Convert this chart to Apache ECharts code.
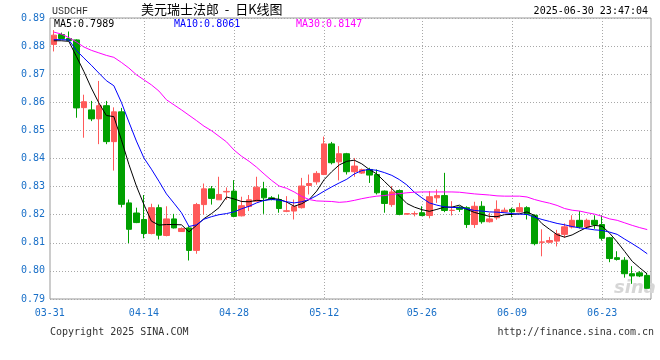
<!DOCTYPE html>
<html><head><meta charset="utf-8">
<script src="https://cdn.jsdelivr.net/npm/echarts@6/dist/echarts.min.js"></script>
<style>html,body{margin:0;padding:0;background:#fff}#c{width:660px;height:360px}</style>
</head><body><div id="c"></div>
<script>
const dates = ['03-31','04-01','04-02','04-03','04-04','04-05',
'04-07','04-08','04-09','04-10','04-11','04-12',
'04-14','04-15','04-16','04-17','04-18','04-19',
'04-21','04-22','04-23','04-24','04-25','04-26',
'04-28','04-29','04-30','05-01','05-02','05-03',
'05-05','05-06','05-07','05-08','05-09','05-10',
'05-12','05-13','05-14','05-15','05-16','05-17','05-18',
'05-19','05-20','05-21','05-22','05-23','05-24',
'05-26','05-27','05-28','05-29','05-30','05-31',
'06-02','06-03','06-04','06-05','06-06','06-07',
'06-09','06-10','06-11','06-12','06-13','06-14',
'06-16','06-17','06-18','06-19','06-20','06-21',
'06-23','06-24','06-25','06-26','06-27','06-28','06-30'];
const tickLabels = ['03-31','04-14','04-28','05-12','05-26','06-09','06-23'];

const opens = [0.8806,0.8841,0.8827,0.8822,0.8581,0.8573,0.8541,0.8588,0.8460,0.8566,
0.8242,0.8206,0.8183,0.8133,0.8225,0.8126,0.8185,0.8140,0.8153,0.8073,
0.8236,0.8292,0.8253,0.8281,0.8284,0.8196,0.8229,0.8248,0.8292,0.8260,
0.8254,0.8212,0.8213,0.8225,0.8304,0.8317,0.8343,0.8452,0.8388,0.8417,
0.8353,0.8348,0.8361,0.8343,0.8284,0.8236,0.8286,0.8202,0.8203,0.8207,
0.8197,0.8260,0.8268,0.8215,0.8227,0.8225,0.8165,0.8230,0.8175,0.8189,
0.8210,0.8219,0.8210,0.8225,0.8198,0.8102,0.8102,0.8106,0.8130,0.8156,
0.8180,0.8156,0.8180,0.8165,0.8118,0.8047,0.8038,0.7990,0.7993,0.7984];
const closes = [0.8839,0.8827,0.8820,0.8580,0.8602,0.8541,0.8588,0.8460,0.8566,0.8237,
0.8148,0.8172,0.8133,0.8225,0.8127,0.8185,0.8153,0.8151,0.8073,0.8236,
0.8292,0.8258,0.8272,0.8283,0.8194,0.8232,0.8253,0.8298,0.8260,0.8254,
0.8222,0.8214,0.8229,0.8302,0.8311,0.8347,0.8452,0.8385,0.8417,0.8353,
0.8373,0.8360,0.8341,0.8278,0.8240,0.8281,0.8201,0.8204,0.8204,0.8197,
0.8264,0.8268,0.8215,0.8216,0.8219,0.8165,0.8230,0.8175,0.8185,0.8219,
0.8216,0.8210,0.8225,0.8201,0.8097,0.8103,0.8108,0.8132,0.8157,0.8180,
0.8156,0.8180,0.8165,0.8116,0.8044,0.8041,0.7990,0.7982,0.7982,0.7938];
const lows = [0.8781,0.8825,0.8818,0.8545,0.8474,0.8533,0.8451,0.8451,0.8357,0.8226,
0.8099,0.8170,0.8116,0.8130,0.8112,0.8123,0.8151,0.8146,0.8037,0.8061,
0.8201,0.8236,0.8253,0.8253,0.8191,0.8194,0.8213,0.8246,0.8203,0.8251,
0.8207,0.8209,0.8183,0.8222,0.8272,0.8307,0.8341,0.8379,0.8322,0.8343,
0.8335,0.8345,0.8313,0.8272,0.8207,0.8228,0.8198,0.8201,0.8194,0.8195,
0.8187,0.8242,0.8209,0.8197,0.8210,0.8153,0.8153,0.8168,0.8172,0.8182,
0.8207,0.8191,0.8208,0.8183,0.8091,0.8052,0.8099,0.8087,0.8118,0.8151,
0.8151,0.8151,0.8150,0.8108,0.8031,0.8037,0.7976,0.7954,0.7978,0.7938];
const highs = [0.8857,0.8848,0.8852,0.8824,0.8627,0.8605,0.8676,0.8605,0.8582,0.8580,
0.8254,0.8225,0.8270,0.8239,0.8236,0.8230,0.8203,0.8155,0.8159,0.8242,
0.8311,0.8302,0.8335,0.8297,0.8323,0.8264,0.8270,0.8335,0.8317,0.8266,
0.8272,0.8266,0.8254,0.8331,0.8343,0.8355,0.8478,0.8459,0.8444,0.8420,
0.8402,0.8364,0.8367,0.8361,0.8286,0.8302,0.8290,0.8205,0.8212,0.8230,
0.8284,0.8290,0.8349,0.8248,0.8230,0.8230,0.8246,0.8248,0.8207,0.8251,
0.8225,0.8225,0.8242,0.8230,0.8201,0.8148,0.8121,0.8146,0.8169,0.8198,
0.8213,0.8186,0.8198,0.8198,0.8121,0.8070,0.8049,0.8017,0.7999,0.7993];

const ma5 = [0.8819,0.8819,0.8817,0.8764,0.8710,0.8651,0.8598,0.8553,0.8549,0.8467,
0.8379,0.8302,0.8236,0.8177,0.8163,0.8165,0.8165,0.8164,0.8139,0.8162,
0.8186,0.8204,0.8225,0.8263,0.8256,0.8247,0.8246,0.8251,0.8250,0.8258,
0.8255,0.8245,0.8230,0.8239,0.8254,0.8284,0.8325,0.8353,0.8377,0.8390,
0.8394,0.8381,0.8361,0.8345,0.8319,0.8293,0.8267,0.8240,0.8227,0.8218,
0.8212,0.8219,0.8227,0.8227,0.8234,0.8219,0.8208,0.8201,0.8194,0.8193,
0.8200,0.8201,0.8203,0.8210,0.8197,0.8168,0.8148,0.8129,0.8120,0.8128,
0.8142,0.8155,0.8162,0.8159,0.8134,0.8103,0.8069,0.8034,0.8011,0.7989];
const ma10 = [0.8823,0.8823,0.8822,0.8785,0.8758,0.8732,0.8704,0.8677,0.8659,0.8600,
0.8530,0.8462,0.8402,0.8362,0.8319,0.8274,0.8241,0.8207,0.8158,0.8164,
0.8184,0.8193,0.8200,0.8204,0.8210,0.8221,0.8230,0.8242,0.8251,0.8254,
0.8252,0.8246,0.8242,0.8246,0.8254,0.8268,0.8284,0.8299,0.8313,0.8326,
0.8345,0.8357,0.8361,0.8358,0.8350,0.8340,0.8325,0.8306,0.8280,0.8260,
0.8242,0.8234,0.8228,0.8226,0.8225,0.8221,0.8215,0.8213,0.8210,0.8209,
0.8207,0.8204,0.8202,0.8201,0.8191,0.8183,0.8176,0.8169,0.8164,0.8158,
0.8153,0.8150,0.8146,0.8144,0.8138,0.8130,0.8113,0.8097,0.8080,0.8061];
const ma30 = [0.8850,0.8843,0.8830,0.8815,0.8797,0.8785,0.8776,0.8767,0.8760,0.8742,
0.8722,0.8698,0.8680,0.8662,0.8640,0.8609,0.8591,0.8573,0.8554,0.8535,
0.8515,0.8499,0.8479,0.8459,0.8430,0.8408,0.8390,0.8369,0.8345,0.8322,
0.8302,0.8294,0.8281,0.8265,0.8254,0.8249,0.8248,0.8247,0.8244,0.8246,
0.8251,0.8257,0.8262,0.8266,0.8268,0.8272,0.8275,0.8278,0.8280,0.8281,
0.8281,0.8281,0.8281,0.8281,0.8280,0.8277,0.8274,0.8272,0.8270,0.8267,
0.8266,0.8266,0.8266,0.8263,0.8254,0.8247,0.8241,0.8233,0.8222,0.8216,
0.8213,0.8207,0.8202,0.8194,0.8185,0.8180,0.8171,0.8162,0.8154,0.8147];

const yMin = 0.79, yMax = 0.89, yStep = 0.01;

const mono = 'DejaVu Sans Mono';
const axisBlue = '#1a70c8';
const upColor = '#ff5a5a', downColor = '#00a000';
const last = a => a[a.length - 1].toFixed(4);

const chart = echarts.init(document.getElementById('c'), null, {renderer: 'canvas'});
chart.setOption({
  animation: false,
  backgroundColor: '#fff',
  grid: {left: 50, right: 9, top: 18, bottom: 61, show: true, borderColor: '#999', borderWidth: 1, backgroundColor: 'transparent'},
  xAxis: {
    type: 'category', data: dates, boundaryGap: true,
    axisLine: {show: false}, axisTick: {show: false},
    axisLabel: {
      interval: (i, v) => tickLabels.includes(v),
      color: axisBlue, fontFamily: mono, fontSize: 10, margin: 9,
      formatter: (v, i) => i === 0 ? '{a|' + v + '}' : v,
      rich: {a: {padding: [0, 8, 0, 0], color: axisBlue, fontFamily: mono, fontSize: 10}}
    },
    splitLine: {
      show: true, alignWithLabel: true,
      interval: (i, v) => i > 0 && tickLabels.includes(v),
      lineStyle: {color: '#a8a8a8', type: [1, 2], width: 1}
    }
  },
  yAxis: {
    type: 'value', min: yMin, max: yMax, interval: yStep,
    axisLine: {show: false}, axisTick: {show: false},
    axisLabel: {color: axisBlue, fontFamily: mono, fontSize: 10, margin: 5, formatter: v => v.toFixed(2)},
    splitLine: {lineStyle: {color: '#a8a8a8', type: [1, 2], width: 1}}
  },
  series: [
    {
      type: 'candlestick', barWidth: 6,
      data: dates.map((d, i) => [opens[i], closes[i], lows[i], highs[i]]),
      itemStyle: {color: upColor, color0: downColor, borderColor: upColor, borderColor0: downColor, borderWidth: 1}
    },
    {type: 'line', data: ma5, symbol: 'none', silent: true, lineStyle: {color: '#000', width: 1}},
    {type: 'line', data: ma10, symbol: 'none', silent: true, lineStyle: {color: '#0000ff', width: 1}},
    {type: 'line', data: ma30, symbol: 'none', silent: true, lineStyle: {color: '#ff00ff', width: 1}}
  ],
  graphic: [
    {type: 'text', left: 52, top: 6, style: {text: 'USDCHF', font: '10px "Liberation Mono"', fill: '#333'}},
    {type: 'text', left: 141, top: 3, style: {text: '美元瑞士法郎  -  日K线图', font: '13px "Noto Sans CJK SC"', fill: '#000'}},
    {type: 'text', right: 12, top: 6, style: {text: '2025-06-30 23:47:04', font: '10px "DejaVu Sans Mono"', fill: '#000'}},
    {type: 'text', left: 54, top: 19, style: {text: 'MA5:' + last(ma5), font: '10px "DejaVu Sans Mono"', fill: '#000'}},
    {type: 'text', left: 174, top: 19, style: {text: 'MA10:' + last(ma10), font: '10px "DejaVu Sans Mono"', fill: '#0000ff'}},
    {type: 'text', left: 296, top: 19, style: {text: 'MA30:' + last(ma30), font: '10px "DejaVu Sans Mono"', fill: '#ff00ff'}},
    {type: 'text', left: 614, top: 279, style: {text: 'sina', font: 'italic bold 18px "DejaVu Sans"', fill: '#d6d6d6'}},
    {type: 'text', left: 50, top: 327, style: {text: 'Copyright 2025 SINA.COM', font: '10px "DejaVu Sans Mono"', fill: '#333'}},
    {type: 'text', right: 6, top: 327, style: {text: 'http://finance.sina.com.cn', font: '10px "DejaVu Sans Mono"', fill: '#333'}}
  ]
});
</script>
</body></html>
